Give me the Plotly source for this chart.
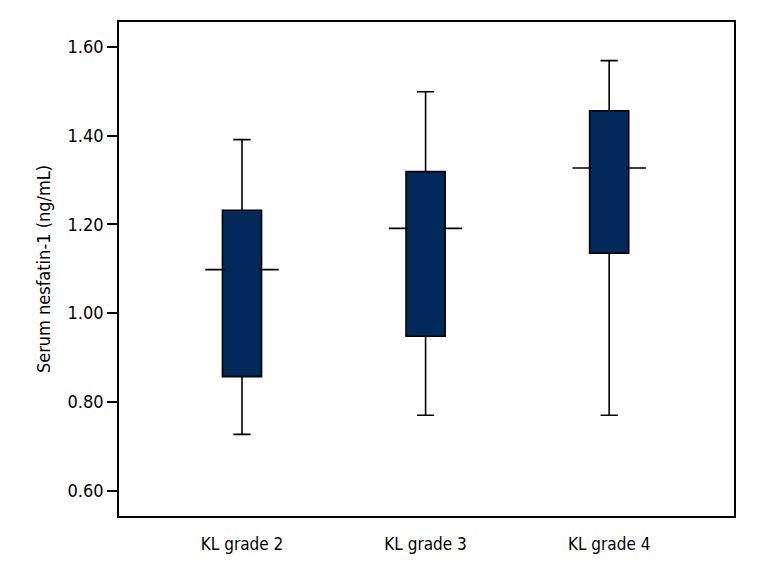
import plotly.graph_objects as go

categories = ["KL grade 2", "KL grade 3", "KL grade 4"]
lower_whisker = [0.727, 0.770, 0.770]
q1_values = [0.857, 0.948, 1.135]
medians = [1.098, 1.191, 1.327]
q3_values = [1.232, 1.319, 1.456]
upper_whisker = [1.391, 1.499, 1.569]
y_tick_values = [0.60, 0.80, 1.00, 1.20, 1.40, 1.60]

FONT = "Liberation Sans Narrow, DejaVu Sans Condensed, Arial Narrow, sans-serif"
NAVY = "#03295a"
BOX_WIDTH = 0.213
MEDIAN_HALF = 0.2
INSET = 0.011

fig = go.Figure()

fig.add_trace(go.Box(
    x=categories,
    q1=q1_values, median=medians, q3=q3_values,
    lowerfence=lower_whisker, upperfence=upper_whisker,
    fillcolor=NAVY,
    line=dict(color="black", width=1.6),
    width=BOX_WIDTH,
    whiskerwidth=0.44,
    boxpoints=False,
    showlegend=False,
    hoverinfo="skip",
))

for i, m in enumerate(medians):
    # median line extending beyond the box, beneath the box fill
    fig.add_shape(type="line", xref="x", yref="y",
                  x0=i - MEDIAN_HALF, x1=i + MEDIAN_HALF, y0=m, y1=m,
                  line=dict(color="black", width=1.6), layer="below")
    # hide the median stroke inside the filled box
    fig.add_shape(type="line", xref="x", yref="y",
                  x0=i - BOX_WIDTH / 2 + INSET, x1=i + BOX_WIDTH / 2 - INSET, y0=m, y1=m,
                  line=dict(color=NAVY, width=3.4), layer="above")

fig.update_layout(
    width=768, height=576,
    margin=dict(l=111, r=42, t=12, b=68),
    paper_bgcolor="white", plot_bgcolor="white",
    font=dict(family=FONT, size=18, color="black"),
)

fig.update_xaxes(
    range=[-0.67, 2.68],
    showline=True, linecolor="black", linewidth=1.6, mirror=True,
    showgrid=False, zeroline=False, ticks="",
    tickfont=dict(family=FONT, size=17, color="black"),
    ticklabelstandoff=12,
)
fig.update_yaxes(
    range=[0.543, 1.656],
    tickvals=y_tick_values,
    tickformat=".2f",
    showline=True, linecolor="black", linewidth=1.6, mirror=True,
    showgrid=False, zeroline=False,
    ticks="outside", ticklen=10, tickwidth=1.6, tickcolor="black",
    tickfont=dict(family=FONT, size=18, color="black"),
    title=dict(text="Serum nesfatin-1 (ng/mL)", font=dict(family=FONT, size=18, color="black"), standoff=12),
)

fig.write_html("out.html")
